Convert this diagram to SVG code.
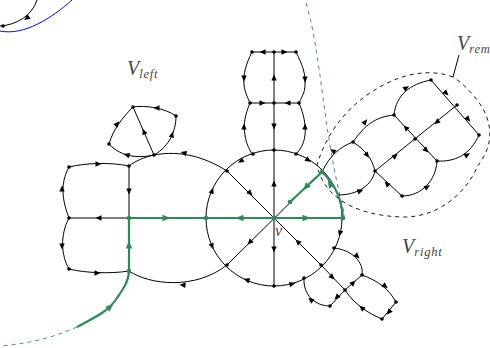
<svg xmlns="http://www.w3.org/2000/svg" width="490" height="348" viewBox="0 0 490 348">
<style>
.e{fill:none;stroke:#000;stroke-width:1}
.g{fill:none;stroke:#2e8b57;stroke-width:2.200}
.gd{fill:none;stroke:#2e8b57;stroke-width:.9;stroke-dasharray:4 4}
.d{fill:none;stroke:#000;stroke-width:.9;stroke-dasharray:4 4}
.n{fill:#000}
.gn{fill:#2e8b57}
text{font-family:"Liberation Serif",serif;font-style:italic;fill:#444}
.b{font-size:20px}
.s{font-size:12.500px;letter-spacing:.8px}
</style>
<defs>
<path id="a" d="M3.500 0L-2.500-2.700L-2.500 2.700Z"/>
<path id="h" d="M4.500 0L-3.500-3.200L-3.500 3.200Z" fill="#2e8b57"/>
</defs>
<rect width="490" height="348" fill="#fff"/>
<g id="connectors">
<path d="M72 0C52 18 24 36 0 31" fill="none" stroke="#00f" stroke-width="1"/>
<path class="e" d="M37 0C32 16 16 25 0 26"/>
<path class="d" d="M453 77C432 69 405 72 378 88C352 103 328 128 317 165C322 190 345 215 402 217C440 218 468 190 477 167C486 155 498 135 482 107C475 96 464 84 453 77"/>
<path class="e" d="M453 77L459 55"/>
<path class="gd" d="M306 3C322 55 322 130 345 216"/>
<path class="gd" d="M77 327C50 339 25 344 0 346"/>
<path class="e" d="M274 150A68 68 0 0 1 342 218A68 68 0 0 1 274 286A68 68 0 0 1 206 218A68 68 0 0 1 274 150"/>
<path class="e" d="M274 52V286M206 218H342M227 171L321 265M227 265L322 171"/>
<path class="e" d="M252 52H296M250 103H299M252 52C246 64 243 74 244 85C245 93 248 98 250 103C245 115 243 125 245 135C246 144 250 150 252 154M296 52C302 64 306 74 305 85C305 93 301 98 299 103C304 115 306 125 305 135C304 144 300 150 296 154"/>
<path class="e" d="M227 171C205 157 180 150 154 155C145 157 135 161 129 166"/>
<path class="e" d="M154 155L133 107C145 105 165 108 176 116C176 130 170 146 154 155C140 158 122 158 109 144C113 130 122 118 133 107"/>
<path class="e" d="M129 166V271M69 218H129M129 166C110 162 85 163 69 167C62 180 60 195 69 218C60 235 61 255 69 269C85 273 110 274 129 271C150 285 195 290 227 265"/>
<path class="e" d="M322 172C330 155 340 147 353 142C365 125 375 117 394 115C396 95 410 84 431 80L479 135C470 155 455 162 437 161C436 180 422 196 402 196L375 171C372 158 365 150 353 142M394 115L437 161M375 171L457 105M375 171C372 185 358 195 338 195"/>
<path class="e" d="M321 265L345 290L330 306C315 306 303 295 304 278M334 248C352 250 364 262 362 275L345 290C355 305 368 313 382 319L396 302C388 288 378 281 362 275"/>
<path class="g" d="M77 327C95 317 108 312 117 298C124 288 129 280 129 271V218H343C342 200 335 184 322 172L290 202"/>
</g>
<g id="arrows" class="n">
<use href="#a" transform="translate(27 18) rotate(145)"/>
<use href="#a" transform="translate(157 108) rotate(180)"/>
<use href="#a" transform="translate(117 124) rotate(-50)"/>
<use href="#a" transform="translate(127 155) rotate(195)"/>
<use href="#a" transform="translate(172 135) rotate(-75)"/>
<use href="#a" transform="translate(144 132) rotate(-113)"/>
<use href="#a" transform="translate(184 153) rotate(195)"/>
<use href="#a" transform="translate(98 164) rotate(0)"/>
<use href="#a" transform="translate(62 189) rotate(-90)"/>
<use href="#a" transform="translate(129 191) rotate(90)"/>
<use href="#a" transform="translate(99 218) rotate(180)"/>
<use href="#a" transform="translate(62 246) rotate(90)"/>
<use href="#a" transform="translate(97 273) rotate(0)"/>
<use href="#a" transform="translate(183 285) rotate(185)"/>
<use href="#a" transform="translate(212 191) rotate(-70)"/>
<use href="#a" transform="translate(212 246) rotate(70)"/>
<use href="#a" transform="translate(241 161) rotate(150)"/>
<use href="#a" transform="translate(308 160) rotate(35)"/>
<use href="#a" transform="translate(250 193) rotate(45)"/>
<use href="#a" transform="translate(250 242) rotate(135)"/>
<use href="#a" transform="translate(298 242) rotate(-135)"/>
<use href="#a" transform="translate(274 184) rotate(-90)"/>
<use href="#a" transform="translate(274 249) rotate(90)"/>
<use href="#a" transform="translate(263 52) rotate(180)"/>
<use href="#a" transform="translate(284 52)"/>
<use href="#a" transform="translate(274 78) rotate(-90)"/>
<use href="#a" transform="translate(274 126) rotate(90)"/>
<use href="#a" transform="translate(262 103)"/>
<use href="#a" transform="translate(288 103) rotate(180)"/>
<use href="#a" transform="translate(305 79) rotate(90)"/>
<use href="#a" transform="translate(305 127) rotate(-90)"/>
<use href="#a" transform="translate(244 78) rotate(90)"/>
<use href="#a" transform="translate(244 127) rotate(-90)"/>
<use href="#a" transform="translate(340 233) rotate(105)"/>
<use href="#a" transform="translate(292 284) rotate(-15)"/>
<use href="#a" transform="translate(247 280) rotate(200)"/>
<use href="#a" transform="translate(332 277) rotate(45)"/>
<use href="#a" transform="translate(311 300) rotate(-140)"/>
<use href="#a" transform="translate(337 297) rotate(135)"/>
<use href="#a" transform="translate(353 283) rotate(-45)"/>
<use href="#a" transform="translate(357 256) rotate(45)"/>
<use href="#a" transform="translate(385 286) rotate(40)"/>
<use href="#a" transform="translate(362 308) rotate(-140)"/>
<use href="#a" transform="translate(389 312) rotate(130)"/>
<use href="#a" transform="translate(333 151) rotate(-150)"/>
<use href="#a" transform="translate(367 155) rotate(55)"/>
<use href="#a" transform="translate(365 122) rotate(-50)"/>
<use href="#a" transform="translate(406 88) rotate(-30)"/>
<use href="#a" transform="translate(446 93) rotate(45)"/>
<use href="#a" transform="translate(468 119) rotate(50)"/>
<use href="#a" transform="translate(467 155) rotate(-30)"/>
<use href="#a" transform="translate(406 128) rotate(-135)"/>
<use href="#a" transform="translate(426 150) rotate(45)"/>
<use href="#a" transform="translate(395 156) rotate(-40)"/>
<use href="#a" transform="translate(437 122) rotate(140)"/>
<use href="#a" transform="translate(427 187) rotate(-30)"/>
<use href="#a" transform="translate(387 184) rotate(-135)"/>
<use href="#a" transform="translate(360 191) rotate(-20)"/>
<use href="#h" transform="translate(110 307) rotate(-40)"/>
<use href="#h" transform="translate(129 245) rotate(-90)"/>
<use href="#h" transform="translate(166 218)"/>
<use href="#h" transform="translate(240 218) rotate(180)"/>
<use href="#h" transform="translate(306 218)"/>
<use href="#h" transform="translate(330 184) rotate(-120)"/>
<use href="#h" transform="translate(306 187) rotate(135)"/>
</g>
<g id="n-black" class="n">
<circle cx="3" cy="26" r="1.800"/><circle cx="133" cy="107" r="1.800"/><circle cx="176" cy="116" r="1.800"/><circle cx="109" cy="144" r="1.800"/><circle cx="154" cy="155" r="1.800"/><circle cx="69" cy="167" r="1.800"/><circle cx="129" cy="166" r="1.800"/><circle cx="69" cy="218" r="1.800"/><circle cx="69" cy="269" r="1.800"/><circle cx="227" cy="171" r="1.800"/><circle cx="227" cy="265" r="1.800"/><circle cx="274" cy="286" r="1.800"/><circle cx="274" cy="150" r="1.800"/><circle cx="253" cy="154" r="1.800"/><circle cx="296" cy="154" r="1.800"/><circle cx="252" cy="52" r="1.800"/><circle cx="274" cy="52" r="1.800"/><circle cx="296" cy="52" r="1.800"/><circle cx="250" cy="103" r="1.800"/><circle cx="274" cy="103" r="1.800"/><circle cx="299" cy="103" r="1.800"/><circle cx="321" cy="265" r="1.800"/><circle cx="304" cy="278" r="1.800"/><circle cx="330" cy="306" r="1.800"/><circle cx="345" cy="290" r="1.800"/><circle cx="362" cy="275" r="1.800"/><circle cx="396" cy="302" r="1.800"/><circle cx="382" cy="319" r="1.800"/><circle cx="334" cy="248" r="1.800"/><circle cx="431" cy="80" r="1.800"/><circle cx="457" cy="105" r="1.800"/><circle cx="479" cy="135" r="1.800"/><circle cx="437" cy="161" r="1.800"/><circle cx="415" cy="139" r="1.800"/><circle cx="394" cy="115" r="1.800"/><circle cx="353" cy="142" r="1.800"/><circle cx="375" cy="171" r="1.800"/><circle cx="402" cy="196" r="1.800"/>
</g>
<g id="n-green" class="gn">
<circle cx="129" cy="218" r="2.300"/><circle cx="129" cy="271" r="2.300"/><circle cx="206" cy="218" r="2.300"/><circle cx="274" cy="218" r="2.300"/><circle cx="343" cy="218" r="2.300"/><circle cx="322" cy="172" r="2.300"/><circle cx="290" cy="202" r="2.300"/>
</g>
<g id="labels">
<text x="127" y="75" class="b">V<tspan class="s" dy="3">left</tspan></text>
<text x="457" y="50" class="b">V<tspan class="s" dy="3">rem</tspan></text>
<text x="402" y="253" class="b">V<tspan class="s" dy="3">right</tspan></text>
<text x="275" y="236" style="font-size:16px">v</text>
</g>
</svg>
